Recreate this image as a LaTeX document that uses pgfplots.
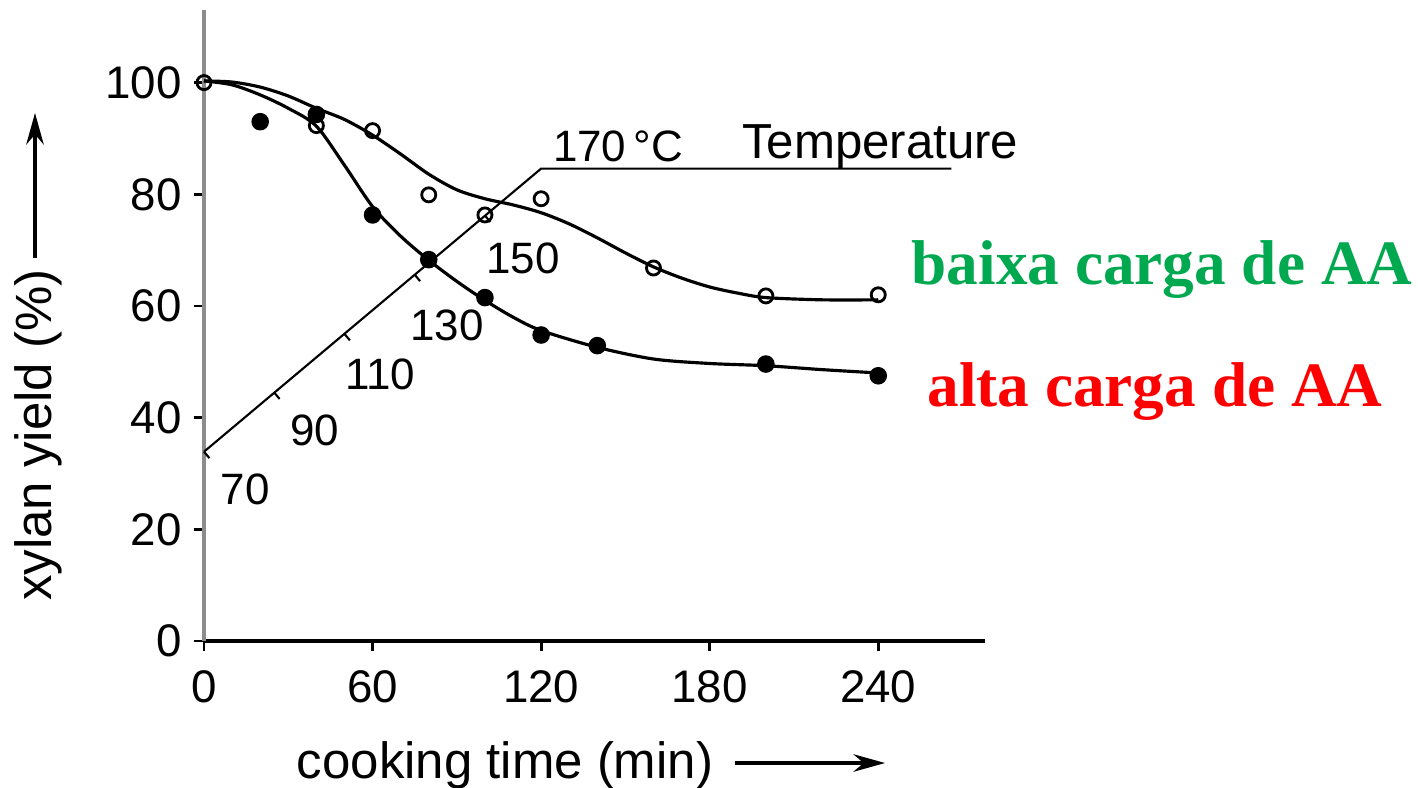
\documentclass[border=0pt]{standalone}
\usepackage{fontspec}
\setmainfont{Liberation Sans}
\newfontfamily\timesb{Liberation Serif}
\usepackage{pgfplots}
\pgfplotsset{compat=1.18}
\usetikzlibrary{arrows.meta}
\definecolor{baixa}{HTML}{00A84F}
\definecolor{alta}{HTML}{FF0000}
% short one-sided tick for the temperature scale
\pgfdeclareplotmark{ttick}{%
  \pgfpathmoveto{\pgfpointorigin}%
  \pgfpathlineto{\pgfpoint{0pt}{-\pgfplotmarksize}}%
  \pgfusepathqstroke}

\begin{document}
\begin{tikzpicture}
\begin{axis}[
  scale only axis, width=7.81cm, height=6.31cm,
  xmin=0, xmax=278, ymin=0, ymax=113,
  axis lines=left, axis line style={-},
  x axis line style={black, line width=1pt},
  y axis line style={black!45, line width=1.4pt},
  xtick={0,60,...,240}, ytick={0,20,...,100},
  tick align=outside, major tick length=0.1cm,
  tick style={black, line width=0.8pt},
  ticklabel style={font=\fontsize{13}{15}\selectfont},
  xticklabel style={yshift=-0.07cm},
  /pgf/number format/assume math mode=true,
  clip=false,
]
% fitted curves
\addplot[black, line width=0.9pt, smooth, tension=0.5] coordinates {
  (0,100.3) (10,100.1) (20,99.2) (30,97.6) (40,95.4) (50,93.4) (60,90.6)
  (70,87.2) (80,83.6) (90,80.8) (100,79.2) (110,78.1) (120,76.7) (130,74.7)
  (140,72.2) (150,69.5) (160,67) (170,65) (180,63.4) (190,62.3) (200,61.5)
  (220,61.1) (240,61.1)};
\addplot[black, line width=0.9pt, smooth, tension=0.5] coordinates {
  (0,100.3) (10,99.6) (20,97.8) (30,95.4) (40,92.2) (50,85.2) (60,77.8)
  (70,72.5) (80,68.2) (90,64.4) (100,61) (110,58) (120,55.6) (140,52.6)
  (160,50.5) (180,49.7) (200,49.3) (220,48.6) (240,48)};
% measured points
\addplot[only marks, mark=*, mark size=2.3pt, black] coordinates {
  (20,93) (40,94.3) (60,76.3) (80,68.3) (100,61.5) (120,54.8) (140,52.9)
  (200,49.6) (240,47.5)};
\addplot[only marks, mark=o, mark size=2pt, black, mark options={fill=white, line width=0.8pt}] coordinates {
  (0,100) (40,92.3) (60,91.4) (80,79.9) (100,76.3) (120,79.2) (160,66.8)
  (200,61.8) (240,62)};
% temperature profile
\addplot[black, line width=0.6pt] coordinates {(0,33.9) (120,84.6) (266,84.6)};
\addplot[only marks, mark=ttick, mark size=2.4pt, black, mark options={rotate=40, line width=0.6pt}] coordinates {
  (0,33.9) (25,44.5) (50,55.0) (75,65.6) (100,76.2)};
\begin{scope}[every node/.style={font=\fontsize{12.5}{15}\selectfont}]
\node at (axis cs:14.6,27.1) {70};
\node at (axis cs:39.5,37.8) {90};
\node at (axis cs:62.7,47.7) {110};
\node at (axis cs:86.5,56.6) {130};
\node at (axis cs:113.6,68.6) {150};
\node at (axis cs:147.4,88.6) {170\,°C};
\node[font=\fontsize{14}{16}\selectfont] at (axis cs:240.7,88.6) {Temperature};
\end{scope}
\end{axis}
% axis labels with arrows
\node[rotate=90, font=\fontsize{14.5}{17}\selectfont] at (-1.66,2.06) {xylan yield (\%)};
\draw[-{Stealth[length=9pt,width=5pt]}, line width=0.9pt] (-1.69,3.83) -- (-1.69,5.28);
\node[font=\fontsize{14.5}{17}\selectfont] at (3.01,-1.24) {cooking time (min)};
\draw[-{Stealth[length=9pt,width=5pt]}, line width=0.9pt] (5.31,-1.22) -- (6.81,-1.22);
% annotations
\node[font=\timesb\bfseries\fontsize{18}{22}\selectfont, text=baixa] at (9.58,3.71) {baixa carga de AA};
\node[font=\timesb\bfseries\fontsize{18}{22}\selectfont, text=alta] at (9.51,2.49) {alta carga de AA};
\pgfresetboundingbox
\useasboundingbox (-2.04,-1.46) rectangle (12.14,6.41);
\end{tikzpicture}
\end{document}
